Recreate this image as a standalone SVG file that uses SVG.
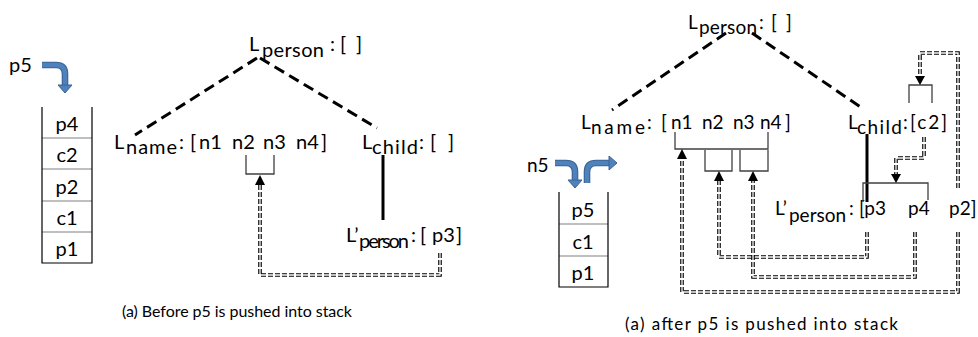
<svg xmlns="http://www.w3.org/2000/svg" width="978" height="337" viewBox="0 0 978 337">
  <style>
    text { font-family: Lato, "Open Sans", "Liberation Sans", sans-serif; fill: #000; }
    .lb { font-size: 20px; }
    .rb { font-size: 19px; }
    .cap { font-size: 16px; }
    .stk { fill: none; stroke: #000; stroke-width: 1.2; }
    .sep { stroke: #808080; stroke-width: 1.2; }
    .tree { fill: none; stroke: #000; stroke-width: 3; stroke-dasharray: 11 6; }
    .solid { fill: none; stroke: #000; stroke-width: 3; }
    .brk { fill: none; stroke: #404040; stroke-width: 1.3; }
    .dd { fill: none; stroke: #000; stroke-width: 3.6; stroke-dasharray: 5 2; }
    .ddw { fill: none; stroke: #fff; stroke-width: 1.3; }
    .ah { fill: #000; }
    .bo { fill: none; stroke: #3a6494; stroke-width: 6.6; }
    .bi { fill: none; stroke: #4f81bd; stroke-width: 4.4; }
    .bh { fill: #4f81bd; stroke: #3a6494; stroke-width: 1; }
  </style>
  <defs>
    <!-- double dashed pointer paths -->
    <path id="pl" d="M440 253 V275 H260 V183"/>
    <path id="pa" d="M958 188 V53 H920 V77"/>
    <path id="pb" d="M924 137 V158 H896 V175"/>
    <path id="pc" d="M867 232 V257 H719 V179"/>
    <path id="pd" d="M915 232 V277 H753 V179"/>
    <path id="pe" d="M958 232 V292 H682 V157"/>
  </defs>

  <!-- ===== left panel ===== -->
  <g id="push-arrow-left">
    <text class="lb" x="9" y="72">p5</text>
    <path class="bo" d="M42 65 H56 Q65 65 65 74 V86"/>
    <path class="bi" d="M42 65 H56 Q65 65 65 74 V86"/>
    <polygon class="bh" points="58,85 72,85 65,93"/>
  </g>

  <g id="stack-left">
    <line class="sep" x1="42" y1="138" x2="92" y2="138"/>
    <line class="sep" x1="42" y1="169" x2="92" y2="169"/>
    <line class="sep" x1="42" y1="201" x2="92" y2="201"/>
    <line class="sep" x1="42" y1="232" x2="92" y2="232"/>
    <path class="stk" d="M42 107 V263 H92 V107"/>
    <g class="lb" text-anchor="middle">
      <text x="67" y="131">p4</text>
      <text x="67" y="162">c2</text>
      <text x="67" y="194">p2</text>
      <text x="67" y="225">c1</text>
      <text x="67" y="256">p1</text>
    </g>
  </g>

  <g id="l-person" class="lb">
    <text x="249" y="51">L</text>
    <text x="262" y="57" textLength="62">person</text>
    <text x="330" y="51">:</text>
    <text x="340" y="51">[</text>
    <text x="356" y="51">]</text>
  </g>

  <g id="l-name" class="lb">
    <text x="114" y="149">L</text>
    <text x="126" y="154" textLength="51">name</text>
    <text x="179" y="149">:</text>
    <text x="190" y="149">[</text>
    <text x="199" y="149">n1</text>
    <text x="232" y="149">n2</text>
    <text x="263" y="149">n3</text>
    <text x="296" y="149">n4</text>
    <text x="321" y="149">]</text>
  </g>

  <g id="l-child" class="lb">
    <text x="362" y="149">L</text>
    <text x="372" y="154" textLength="46">child</text>
    <text x="419" y="149">:</text>
    <text x="430" y="149">[</text>
    <text x="448" y="149">]</text>
  </g>

  <g id="l-person2" class="lb">
    <text x="346" y="242">L’</text>
    <text x="359" y="248" textLength="50">person</text>
    <text x="411" y="242">:</text>
    <text x="420" y="242">[</text>
    <text x="432" y="242">p3</text>
    <text x="456" y="242">]</text>
  </g>

  <g id="caption-left">
    <text class="cap" x="122" y="317" textLength="230">(a) Before p5 is pushed into stack</text>
  </g>

  <!-- ===== right panel ===== -->
  <g id="push-arrows-right">
    <text class="rb" x="527" y="172">n5</text>
    <path class="bo" d="M555 163 H566 Q575 163 575 172 V181"/>
    <path class="bi" d="M555 163 H566 Q575 163 575 172 V181"/>
    <polygon class="bh" points="568,180 582,180 575,188"/>
    <path class="bo" d="M587 183 V172 Q587 163 596 163 H610"/>
    <path class="bi" d="M587 183 V172 Q587 163 596 163 H610"/>
    <polygon class="bh" points="609,156 609,170 617,163"/>
  </g>

  <g id="stack-right">
    <line class="sep" x1="559" y1="224" x2="608" y2="224"/>
    <line class="sep" x1="559" y1="256" x2="608" y2="256"/>
    <path class="stk" d="M559 192 V287 H608 V192"/>
    <g class="lb" text-anchor="middle">
      <text x="583" y="217">p5</text>
      <text x="583" y="249">c1</text>
      <text x="583" y="280">p1</text>
    </g>
  </g>

  <g id="r-person" class="rb">
    <text x="688" y="29">L</text>
    <text x="699" y="34" textLength="58">person</text>
    <text x="759" y="29">:</text>
    <text x="771" y="29">[</text>
    <text x="786" y="29">]</text>
  </g>

  <g id="r-name" class="rb">
    <text x="581" y="129">L</text>
    <text x="591" y="134" textLength="54">name</text>
    <text x="647" y="129">:</text>
    <text x="661" y="129">[</text>
    <text x="671" y="129">n1</text>
    <text x="702" y="129">n2</text>
    <text x="733" y="129">n3</text>
    <text x="760" y="129">n4</text>
    <text x="785" y="129">]</text>
  </g>

  <g id="r-child" class="rb">
    <text x="848" y="129">L</text>
    <text x="857" y="134" textLength="45">child</text>
    <text x="903" y="129">:</text>
    <text x="910" y="129" textLength="37">[c2]</text>
  </g>

  <g id="r-person2" class="rb">
    <text x="775" y="215">L’</text>
    <text x="789" y="222" textLength="57">person</text>
    <text x="849" y="215">:</text>
    <text x="859" y="215">[p3</text>
    <text x="908" y="215">p4</text>
    <text x="949" y="215">p2]</text>
  </g>

  <g id="caption-right">
    <text class="cap" x="625" y="330" textLength="273" style="font-size:17px">(a) after p5 is pushed into stack</text>
  </g>

  <!-- ===== connectors ===== -->
  <g id="connectors">
    <!-- tree edges -->
    <line class="tree" x1="257" y1="58" x2="135" y2="135"/>
    <line class="tree" x1="260" y1="58" x2="377" y2="128"/>
    <line class="tree" x1="726" y1="33" x2="612" y2="110"/>
    <line class="tree" x1="752" y1="33" x2="862" y2="108"/>
    <line class="solid" x1="383" y1="155" x2="383" y2="220"/>
    <line class="solid" x1="867" y1="134" x2="867" y2="202"/>

    <!-- index brackets -->
    <path class="brk" d="M246 155 V174 H274 V155"/>
    <path class="brk" d="M675 132 V149 H768 V132"/>
    <path class="brk" d="M705 150 V171 H732 V150"/>
    <path class="brk" d="M740 150 V171 H768 V150"/>
    <path class="brk" d="M909 103 V85 H932 V103"/>
    <path class="brk" d="M863 202 V183 H928 V200"/>

    <!-- double dashed pointers -->
    <use href="#pl" class="dd"/><use href="#pl" class="ddw"/>
    <use href="#pa" class="dd"/><use href="#pa" class="ddw"/>
    <use href="#pb" class="dd"/><use href="#pb" class="ddw"/>
    <use href="#pc" class="dd"/><use href="#pc" class="ddw"/>
    <use href="#pd" class="dd"/><use href="#pd" class="ddw"/>
    <use href="#pe" class="dd"/><use href="#pe" class="ddw"/>

    <!-- arrowheads -->
    <polygon class="ah" points="260,175 255,185 265,185"/>
    <polygon class="ah" points="920,85 915,76 925,76"/>
    <polygon class="ah" points="896,183 891,174 901,174"/>
    <polygon class="ah" points="719,171 714,181 724,181"/>
    <polygon class="ah" points="753,171 748,181 758,181"/>
    <polygon class="ah" points="682,149 677,159 687,159"/>
  </g>
</svg>
